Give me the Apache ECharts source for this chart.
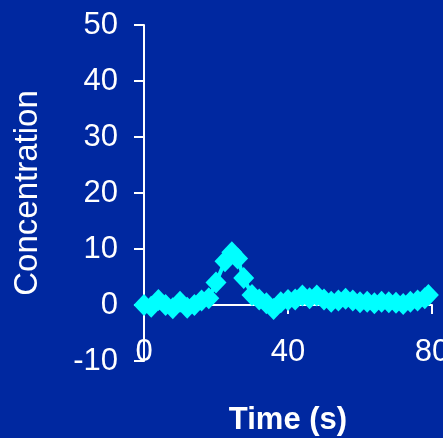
<!DOCTYPE html>
<html>
<head>
<meta charset="utf-8">
<script src="https://cdn.jsdelivr.net/npm/echarts@6/dist/echarts.min.js"></script>
<style>
html,body{margin:0;padding:0;background:#0028a0;}
#c{width:443px;height:438px;}
</style>
</head>
<body>
<div id="c"></div>
<script>
var timeS = [0,2,4,6,8,10,12,14,16,18,20,22.5,24.4,26,27.7,30,32,34,36,38,40,42,44,46,48,50,52,54,56,58,60,62,64,66,68,70,72,74,76,78,79];
var conc  = [0,-0.3,0.9,0,-0.6,0.6,-0.5,0,0.8,1.2,4.0,7.8,9.4,8.3,4.8,1.8,1.0,0.3,-0.7,0.5,0.9,1.0,1.7,1.2,1.7,1.0,0.6,0.8,1.1,0.8,0.5,0.6,0.3,0.6,0.5,0.4,0.2,0.6,0.8,1.2,1.8];
var xTicks = [0,40,80];
var yTicks = [-10,0,10,20,30,40,50];

var pts = timeS.map(function(t,i){return [t, conc[i]];});
var chart = echarts.init(document.getElementById('c'), null, {renderer:'canvas'});
var font = 'Liberation Sans, Arial, sans-serif';
chart.setOption({
  backgroundColor:'#0028a0',
  animation:false,
  grid:{left:144,right:11,top:25,bottom:77,containLabel:false,outerBoundsMode:'none'},
  xAxis:{
    type:'value', min:xTicks[0], max:xTicks[xTicks.length-1], interval:40,
    axisLine:{onZero:true,lineStyle:{color:'#ffffff',width:2}},
    axisTick:{show:true,inside:false,length:9,lineStyle:{color:'#ffffff',width:2}},
    axisLabel:{color:'#ffffff',fontSize:31,fontFamily:font,margin:-24},
    splitLine:{show:false},
    name:'Time (s)', nameLocation:'middle', nameGap:44,
    nameTextStyle:{color:'#ffffff',fontSize:31,fontWeight:'bold',fontFamily:font}
  },
  yAxis:{
    type:'value', min:yTicks[0], max:yTicks[yTicks.length-1], interval:10,
    axisLine:{show:true,onZero:false,lineStyle:{color:'#ffffff',width:2}},
    axisTick:{show:true,inside:false,length:10,lineStyle:{color:'#ffffff',width:2}},
    axisLabel:{color:'#ffffff',fontSize:31,fontFamily:font,margin:26},
    splitLine:{show:false},
    name:'Concentration', nameLocation:'middle', nameGap:100,
    nameTextStyle:{color:'#ffffff',fontSize:33,fontFamily:font}
  },
  series:[{
    type:'line', data:pts,
    symbol:'diamond', symbolSize:[21,22],
    lineStyle:{color:'#00ffff',width:4},
    itemStyle:{color:'#00ffff'}
  }]
});
</script>
</body>
</html>
